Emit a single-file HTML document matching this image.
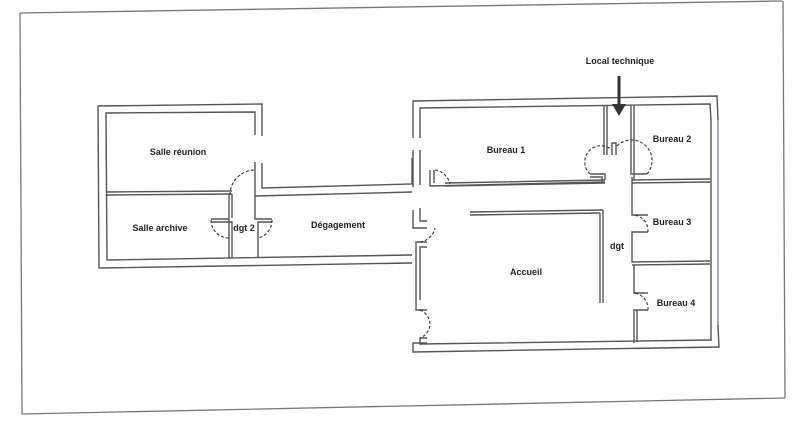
<!DOCTYPE html>
<html><head><meta charset="utf-8"><style>
html,body{margin:0;padding:0;background:#fff;}
svg{display:block}
text{font-family:"Liberation Sans",sans-serif;font-weight:bold;font-size:9px;fill:#222;text-anchor:middle}
</style></head><body>
<svg width="800" height="421" viewBox="0 0 800 421" xmlns="http://www.w3.org/2000/svg">
<g stroke="#777" stroke-width="1.3" fill="none">
<line x1="20" y1="13" x2="782" y2="1"/>
<line x1="783" y1="1" x2="785" y2="398"/>
<line x1="22" y1="414" x2="785" y2="398"/>
<line x1="20" y1="13" x2="22" y2="414"/>
</g>
<g stroke="#555" stroke-width="1.4" fill="none">
<!-- left wing outer -->
<polyline points="262,136 262,104 98,106 99,268 412,263"/>
<polyline points="255,135 255,112 106,113 107,260 412,255"/>
<polyline points="262,163 262,188 412,184 412,158"/>
<polyline points="255,162 255,196 412,192"/>
<!-- left wing internal -->
<line x1="107" y1="192" x2="232" y2="191"/>
<line x1="107" y1="195" x2="232" y2="194"/>
<line x1="229" y1="194" x2="229" y2="218"/>
<line x1="232" y1="194" x2="232" y2="218"/>
<polyline points="211,219 229,219 229,258"/>
<polyline points="211,222 232,222 232,258"/>
<polyline points="272,219 255,219 255,196"/>
<polyline points="272,222 258,222 258,258"/>
<!-- main block -->
<polyline points="413,138 413,101 717,96 718,120"/>
<polyline points="420,138 420,108 710,104 711,120"/>
<line x1="413" y1="150" x2="413" y2="187"/>
<line x1="420" y1="150" x2="420" y2="185"/>
<polyline points="413,210 413,228 427,228"/>
<polyline points="420,208 420,221 427,221"/>
<polyline points="427,242 416,242 416,310 427,310"/>
<polyline points="427,247 420,247 420,300"/>
<polyline points="427,338 420,338 420,344 712,340"/>
<polyline points="427,343 413,343 413,352 719,347 718,325"/>
<line x1="711" y1="325" x2="711" y2="340"/>
<line x1="718" y1="120" x2="718" y2="325" stroke="#889"/>
<line x1="711" y1="120" x2="711" y2="325"/>
<!-- Bureau1 bottom -->
<polyline points="430,170 430,186 605,182"/>
<polyline points="434,170 434,183"/>
<line x1="445" y1="183" x2="605" y2="180"/>
<line x1="445" y1="186" x2="605" y2="183"/>
<!-- local technique -->
<line x1="604" y1="105" x2="604" y2="155"/>
<line x1="607" y1="105" x2="607" y2="155"/>
<line x1="631" y1="105" x2="631" y2="155"/>
<line x1="634" y1="105" x2="634" y2="180"/>
<polyline points="612,155 612,143 616,143 616,155"/>
<polyline points="590,174 605,174 605,180"/>
<polyline points="590,177 602,177 602,183"/>
<polyline points="647,174 631,174 631,155"/>
<!-- right column -->
<line x1="632" y1="180" x2="710" y2="179"/>
<line x1="632" y1="183" x2="710" y2="182"/>
<polyline points="632,177 632,215 648,215"/>
<polyline points="648,232 632,232 632,262 710,261"/>
<polyline points="632,265 710,264"/>
<polyline points="634,265 634,293 648,293"/>
<polyline points="648,310 634,310 634,343"/>
<polyline points="637,310 637,342"/>
<!-- accueil walls -->
<line x1="470" y1="212" x2="603" y2="210"/>
<line x1="470" y1="215" x2="600" y2="213"/>
<line x1="603" y1="210" x2="603" y2="303"/>
<line x1="600" y1="213" x2="600" y2="303"/>
</g>
<g stroke="#333" stroke-width="1.1" fill="none" stroke-dasharray="3,2">
<path d="M230,195 A25,25 0 0 1 255,170"/>
<path d="M211,220 A18,18 0 0 0 229,238"/>
<path d="M272,220 A18,18 0 0 1 258,238"/>
<path d="M435,170 A18,18 0 0 1 450,184"/>
<path d="M420,242 A18,18 0 0 0 435,228"/>
<path d="M590,174 A16,16 0 0 1 612,150"/>
<path d="M647,174 A16,16 0 0 0 616,147"/>
<path d="M648,232 A16,16 0 0 0 634,215"/>
<path d="M648,310 A16,16 0 0 0 634,293"/>
<path d="M420,310 A16,16 0 0 1 430,325 A16,16 0 0 1 420,338"/>
</g>
<line x1="619" y1="76" x2="619" y2="104" stroke="#333" stroke-width="3"/>
<polygon points="612,104 626,104 619,116" fill="#333"/>
<text x="620" y="64">Local technique</text>
<text x="178" y="155">Salle réunion</text>
<text x="160" y="231">Salle archive</text>
<text x="244" y="231">dgt 2</text>
<text x="338" y="228">Dégagement</text>
<text x="506" y="153">Bureau 1</text>
<text x="672" y="142">Bureau 2</text>
<text x="672" y="225">Bureau 3</text>
<text x="617" y="249">dgt</text>
<text x="526" y="275">Accueil</text>
<text x="676" y="306">Bureau 4</text>
</svg>
</body></html>
